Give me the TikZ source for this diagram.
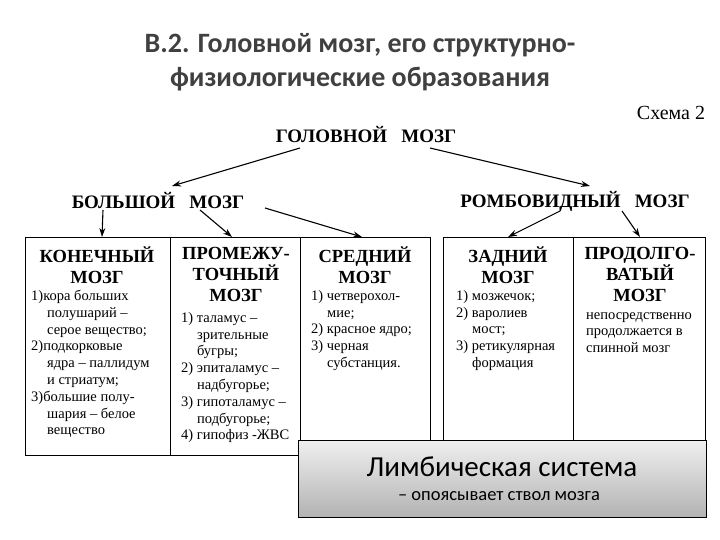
\documentclass[tikz,border=0pt]{standalone}
\usepackage{fontspec}
\setmainfont{Liberation Serif}
\newfontfamily\ttl{Carlito}
\usetikzlibrary{arrows.meta}
\begin{document}
\begin{tikzpicture}[x=1pt,y=-1pt,
  hd/.style={font=\bfseries\fontsize{18.5}{21}\selectfont,align=center,anchor=north,inner sep=0pt},
  bd/.style={font=\fontsize{14.5}{16.8}\selectfont,align=left,anchor=north west,inner sep=0pt},
  lvl/.style={font=\bfseries\fontsize{19}{19}\selectfont},
  arr/.style={-{Stealth[length=9pt,width=6pt]},line width=1.1pt},
  box/.style={draw,line width=1pt}]
\useasboundingbox (0,0) rectangle (720,540);
\fill[white] (0,0) rectangle (720,540);
\node[font=\ttl\bfseries\fontsize{28}{34}\selectfont,text=black!75,align=center] (t) at (360,62) {В.2. Головной мозг, его структурно-\\физиологические образования};
\node[font=\fontsize{20}{20}\selectfont] (s) at (671,113) {Схема 2};
\node[lvl] (g) at (366,135) {ГОЛОВНОЙ\ \ \ МОЗГ};
\node[lvl] (b) at (158,201) {БОЛЬШОЙ\ \ \ МОЗГ};
\node[lvl] (r) at (575,201) {РОМБОВИДНЫЙ\ \ \ МОЗГ};
\draw[box] (25,237) rectangle (430,455);
\draw[box] (170,237) -- (170,455);
\draw[box] (300,237) -- (300,455);
\draw[box] (443,237) rectangle (705,442);
\draw[box] (573,237) -- (573,442);
\coordinate (c1) at (102,237); \coordinate (c2) at (232,237);
\coordinate (c3) at (362,237); \coordinate (c4) at (508,237);
\coordinate (c5) at (640,237);
\coordinate (gL) at (300,148); \coordinate (gR) at (430,148);
\coordinate (bL) at (172,186); \coordinate (rR) at (590,186);
\draw[arr] (gL) -- (bL);
\draw[arr] (gR) -- (rR);
\coordinate (b1s) at (103,210); \coordinate (b2s) at (200,210); \coordinate (b3s) at (265,208);
\coordinate (r1s) at (560,211); \coordinate (r2s) at (622,211);
\draw[arr] (b1s) -- (c1);
\draw[arr] (b2s) -- (c2);
\draw[arr] (b3s) -- (c3);
\draw[arr] (r1s) -- (c4);
\draw[arr] (r2s) -- (c5);
\node[hd] (h1) at (97,247) {КОНЕЧНЫЙ\\МОЗГ};
\node[bd] (b1) at (31,290) {1)кора больших\\\hspace*{1.1em}полушарий –\\\hspace*{1.1em}серое вещество;\\2)подкорковые\\\hspace*{1.1em}ядра – паллидум\\\hspace*{1.1em}и стриатум;\\3)большие полу-\\\hspace*{1.1em}шария – белое\\\hspace*{1.1em}вещество};
\node[hd] (h2) at (236,247) {ПРОМЕЖУ-\\ТОЧНЫЙ\\МОЗГ};
\node[bd] (b2) at (181,312) {1) таламус –\\\hspace*{1.1em}зрительные\\\hspace*{1.1em}бугры;\\2) эпиталамус –\\\hspace*{1.1em}надбугорье;\\3) гипоталамус –\\\hspace*{1.1em}подбугорье;\\4) гипофиз -ЖВС};
\node[hd] (h3) at (365,247) {СРЕДНИЙ\\МОЗГ};
\node[bd] (b3) at (311,290) {1) четверохол-\\\hspace*{1.1em}мие;\\2) красное ядро;\\3) черная\\\hspace*{1.1em}субстанция.};
\node[hd] (h4) at (508,247) {ЗАДНИЙ\\МОЗГ};
\node[bd] (b4) at (456,290) {1) мозжечок;\\2) варолиев\\\hspace*{1.1em}мост;\\3) ретикулярная\\\hspace*{1.1em}формация};
\node[hd] (h5) at (640,247) {ПРОДОЛГО-\\ВАТЫЙ\\МОЗГ};
\node[bd] (b5) at (586,312) {непосредственно\\продолжается в\\спинной мозг};
\shade[top color=black!6,bottom color=black!30] (298,440) rectangle (706,517);
\draw[line width=1pt] (298,440) rectangle (706,517);
\node[font=\ttl\fontsize{29}{29}\selectfont] (l1) at (502,467) {Лимбическая система};
\node[font=\ttl\fontsize{18.5}{18.5}\selectfont] (l2) at (499,496) {– опоясывает ствол мозга};
\end{tikzpicture}
\end{document}
